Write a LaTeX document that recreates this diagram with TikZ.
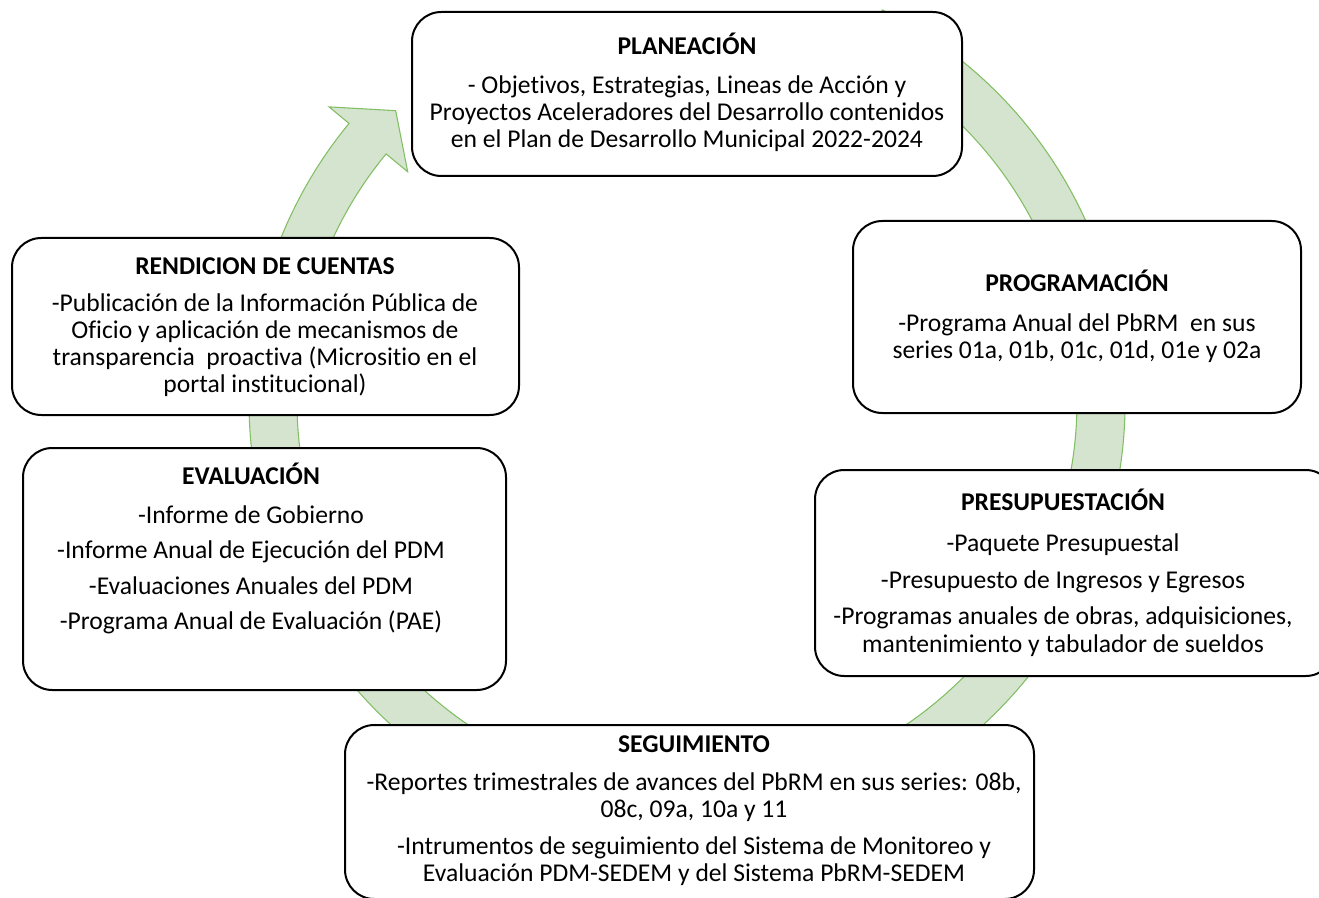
\documentclass[tikz,border=0pt]{standalone}
\usepackage{fontspec}
\setmainfont{Carlito}[Ligatures=NoCommon]
\usetikzlibrary{calc,fit}
\definecolor{bandfill}{RGB}{213,228,206}
\definecolor{bandline}{RGB}{130,190,100}
\newcommand{\bodyfont}{\fontsize{19.2pt}{20.25pt}\selectfont}
\begin{document}
\begin{tikzpicture}[x=0.75pt,y=-0.75pt,
  box/.style={draw=black, line width=1.5pt, fill=white, rounded corners=22pt, inner sep=0pt},
  txt/.style={align=center, font=\bodyfont, inner sep=0pt}]
\useasboundingbox (0,0) rectangle (1319,898);
\clip (0,0) rectangle (1319,898);
\coordinate (c) at (687,402);
% cycle arrow
\path[fill=bandfill, draw=bandline, line width=0.8pt]
  ($(c)+(-63.5:438)$) arc[start angle=-63.5, end angle=219.5, radius=438]
  -- ($(c)+(219.5:464)$) -- ($(c)+(225:412)$) -- ($(c)+(219.5:362)$)
  -- ($(c)+(219.5:390)$) arc[start angle=219.5, end angle=-63.5, radius=390] -- cycle;
% boxes
\node[box, fit={(412,12) (962,176)}] (pbox) {};
\node[box, fit={(853,221) (1301,413)}] (prbox) {};
\node[box, fit={(12,238) (519,415)}] (rbox) {};
\node[box, fit={(23,448) (506,690)}] (ebox) {};
\node[box, fit={(815,470) (1335,676)}] (psbox) {};
\node[box, fit={(345,725) (1034,899)}] (sbox) {};
% texts
\node[txt] (ptext) at (687,92.5) {\textbf{PLANEACIÓN}\\[9pt]
- Objetivos, Estrategias, Lineas de Acción y\\
Proyectos Aceleradores del Desarrollo contenidos\\
en el Plan de Desarrollo Municipal 2022-2024};
\node[txt] (prtext) at (1077,316.5) {\textbf{PROGRAMACIÓN}\\[9.75pt]
-Programa Anual del PbRM\ \ en sus\\
series 01a, 01b, 01c, 01d, 01e y 02a};
\node[txt] (rtext) at (265,327) {\textbf{RENDICION DE CUENTAS}\\[7.5pt]
-Publicación de la Información Pública de\\
Oficio y aplicación de mecanismos de\\
transparencia\ \ proactiva (Micrositio en el\\
portal institucional)};
\node[txt] (etext) at (251,548.5) {\textbf{EVALUACIÓN}\\[9pt]
-Informe de Gobierno\\[6.4pt]
-Informe Anual de Ejecución del PDM\\[6.4pt]
-Evaluaciones Anuales del PDM\\[6.4pt]
-Programa Anual de Evaluación (PAE)};
\node[txt] (pstext) at (1063,572.5) {\textbf{PRESUPUESTACIÓN}\\[10.5pt]
-Paquete Presupuestal\\[7.5pt]
-Presupuesto de Ingresos y Egresos\\[6.75pt]
-Programas anuales de obras, adquisiciones,\\[0.75pt]
mantenimiento y tabulador de sueldos};
\node[txt] (stext) at (694,810.5) {\textbf{SEGUIMIENTO}\\[8.25pt]
-Reportes trimestrales de avances del PbRM en sus series: 08b,\\
08c, 09a, 10a y 11\\[7.5pt]
-Intrumentos de seguimiento del Sistema de Monitoreo y\\
Evaluación PDM-SEDEM y del Sistema PbRM-SEDEM};
\end{tikzpicture}
\end{document}
